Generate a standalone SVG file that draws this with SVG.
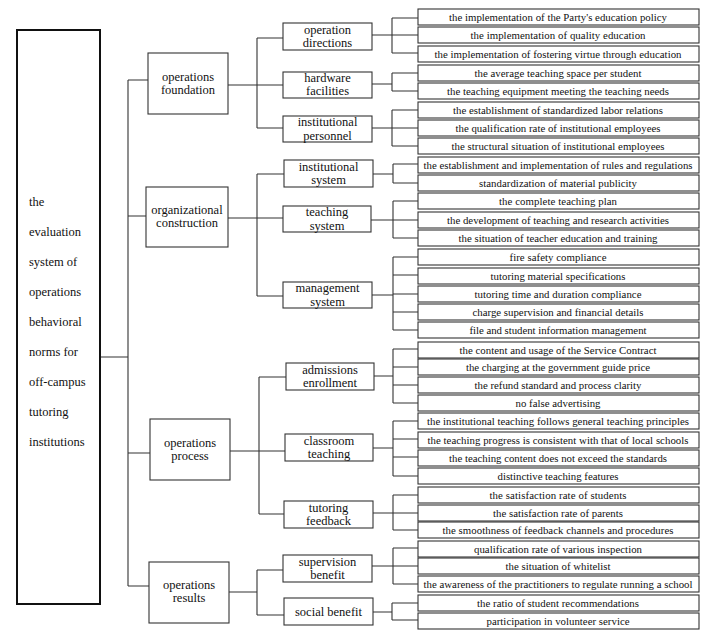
<svg xmlns="http://www.w3.org/2000/svg" width="713" height="637" viewBox="0 0 713 637">
<style>
.bg{fill:#fff}
.root{fill:#fff;stroke:#111;stroke-width:2}
.b{fill:#fff;stroke:#333;stroke-width:1.1}
.c{fill:none;stroke:#333;stroke-width:1.1}
.t1{font-size:12.5px;text-anchor:middle}
.t3{font-size:10.8px;text-anchor:middle}
.tr{font-size:12.5px}
</style>
<rect class="bg" x="0" y="0" width="713" height="637"/>
<g id="connectors">
<path class="c" d="M100,357H128M128,80V586M128,80H148M128,216H146M128,453H150M128,586H149"/>
<path class="c" d="M228,85H283M257,38V128M257,38H283M257,128H283"/>
<path class="c" d="M228,218H283M257,174V296M257,174H284M257,296H283"/>
<path class="c" d="M230,451H285M259,377V514M259,377H286M259,514H284"/>
<path class="c" d="M229,592H257M257,570V615M257,570H283M257,615H284"/>
<path class="c" d="M372,35H418M392,18V53M392,18H418M392,53H418"/>
<path class="c" d="M372,84H392M392,73V91M392,73H418M392,91H418"/>
<path class="c" d="M372,128H418M392,110V146M392,110H418M392,146H418"/>
<path class="c" d="M373,174H393M393,164V183M393,164H418M393,183H418"/>
<path class="c" d="M371,220H418M393,201V238M393,201H418M393,238H418"/>
<path class="c" d="M372,295H393M393,257V330M393,257H418M393,275H418M393,294H418M393,312H418M393,330H418"/>
<path class="c" d="M374,376H393M393,349V403M393,349H418M393,367H418M393,385H418M393,403H418"/>
<path class="c" d="M373,448H393M393,421V476M393,421H418M393,439H418M393,457H418M393,476H418"/>
<path class="c" d="M373,513H418M393,495V530M393,495H418M393,530H418"/>
<path class="c" d="M372,566H418M393,548V584M393,548H418M393,584H418"/>
<path class="c" d="M373,612H392M392,603V620M392,603H418M392,620H418"/>
</g>
<g font-family="'Liberation Serif', 'DejaVu Serif', serif" fill="#111">
<g id="root">
<rect class="root" x="17" y="30" width="83" height="574"/>
<text class="tr" x="29" y="206">the</text>
<text class="tr" x="29" y="236">evaluation</text>
<text class="tr" x="29" y="266">system of</text>
<text class="tr" x="29" y="296">operations</text>
<text class="tr" x="29" y="326">behavioral</text>
<text class="tr" x="29" y="356">norms for</text>
<text class="tr" x="29" y="386">off-campus</text>
<text class="tr" x="29" y="416">tutoring</text>
<text class="tr" x="29" y="446">institutions</text>
</g>
<g id="operations-foundation"><rect class="b" x="148" y="53" width="80" height="61"/><text class="t1" x="188" y="81">operations</text><text class="t1" x="188" y="94">foundation</text></g>
<g id="organizational-construction"><rect class="b" x="146" y="187" width="82" height="60"/><text class="t1" x="187" y="214">organizational</text><text class="t1" x="187" y="227">construction</text></g>
<g id="operations-process"><rect class="b" x="150" y="419" width="80" height="61"/><text class="t1" x="190" y="447">operations</text><text class="t1" x="190" y="460">process</text></g>
<g id="operations-results"><rect class="b" x="149" y="562" width="80" height="61"/><text class="t1" x="189" y="589">operations</text><text class="t1" x="189" y="602">results</text></g>

<g id="operation-directions"><rect class="b" x="283" y="23" width="89" height="27"/><text class="t1" x="327.5" y="34">operation</text><text class="t1" x="327.5" y="47">directions</text></g>
<g id="hardware-facilities"><rect class="b" x="283" y="72" width="89" height="26"/><text class="t1" x="327.5" y="82">hardware</text><text class="t1" x="327.5" y="95">facilities</text></g>
<g id="institutional-personnel"><rect class="b" x="283" y="116" width="89" height="26"/><text class="t1" x="327.5" y="126">institutional</text><text class="t1" x="327.5" y="140">personnel</text></g>
<g id="institutional-system"><rect class="b" x="284" y="160" width="89" height="27"/><text class="t1" x="328.5" y="171">institutional</text><text class="t1" x="328.5" y="184">system</text></g>
<g id="teaching-system"><rect class="b" x="283" y="206" width="88" height="26"/><text class="t1" x="327" y="216">teaching</text><text class="t1" x="327" y="230">system</text></g>
<g id="management-system"><rect class="b" x="283" y="282" width="89" height="26"/><text class="t1" x="327.5" y="292">management</text><text class="t1" x="327.5" y="306">system</text></g>
<g id="admissions-enrollment"><rect class="b" x="286" y="363" width="88" height="27"/><text class="t1" x="330" y="374">admissions</text><text class="t1" x="330" y="387">enrollment</text></g>
<g id="classroom-teaching"><rect class="b" x="285" y="434" width="88" height="27"/><text class="t1" x="329" y="445">classroom</text><text class="t1" x="329" y="458">teaching</text></g>
<g id="tutoring-feedback"><rect class="b" x="284" y="501" width="89" height="27"/><text class="t1" x="328.5" y="512">tutoring</text><text class="t1" x="328.5" y="525">feedback</text></g>
<g id="supervision-benefit"><rect class="b" x="283" y="555" width="89" height="27"/><text class="t1" x="327.5" y="566">supervision</text><text class="t1" x="327.5" y="579">benefit</text></g>
<g id="social-benefit"><rect class="b" x="284" y="598" width="89" height="27"/><text class="t1" x="328.5" y="616">social benefit</text></g>

<g id="i01"><rect class="b" x="418" y="9" width="281" height="16"/><text class="t3" x="558" y="20.5" textLength="218">the implementation of the Party's education policy</text></g>
<g id="i02"><rect class="b" x="418" y="27" width="281" height="16"/><text class="t3" x="558" y="38.5" textLength="175">the implementation of quality education</text></g>
<g id="i03"><rect class="b" x="418" y="46" width="281" height="16"/><text class="t3" x="558" y="57.5" textLength="247">the implementation of fostering virtue through education</text></g>
<g id="i04"><rect class="b" x="418" y="65" width="281" height="16"/><text class="t3" x="558" y="76.5" textLength="167">the average teaching space per student</text></g>
<g id="i05"><rect class="b" x="418" y="83" width="281" height="16"/><text class="t3" x="558" y="94.5" textLength="222">the teaching equipment meeting the teaching needs</text></g>
<g id="i06"><rect class="b" x="418" y="102" width="281" height="16"/><text class="t3" x="558" y="113.5" textLength="210">the establishment of standardized labor relations</text></g>
<g id="i07"><rect class="b" x="418" y="120" width="281" height="16"/><text class="t3" x="558" y="131.5" textLength="205">the qualification rate of institutional employees</text></g>
<g id="i08"><rect class="b" x="418" y="138" width="281" height="16"/><text class="t3" x="558" y="149.5" textLength="213">the structural situation of institutional employees</text></g>
<g id="i09"><rect class="b" x="418" y="157" width="281" height="16"/><text class="t3" x="558" y="168.5" textLength="269">the establishment and implementation of rules and regulations</text></g>
<g id="i10"><rect class="b" x="418" y="175" width="281" height="16"/><text class="t3" x="558" y="186.5" textLength="158">standardization of material publicity</text></g>
<g id="i11"><rect class="b" x="418" y="193" width="281" height="16"/><text class="t3" x="558" y="204.5" textLength="118">the complete teaching plan</text></g>
<g id="i12"><rect class="b" x="418" y="212" width="281" height="16"/><text class="t3" x="558" y="223.5" textLength="222">the development of teaching and research activities</text></g>
<g id="i13"><rect class="b" x="418" y="230" width="281" height="16"/><text class="t3" x="558" y="241.5" textLength="199">the situation of teacher education and training</text></g>
<g id="i14"><rect class="b" x="418" y="249" width="281" height="16"/><text class="t3" x="558" y="260.5" textLength="97">fire safety compliance</text></g>
<g id="i15"><rect class="b" x="418" y="268" width="281" height="16"/><text class="t3" x="558" y="279.5" textLength="135">tutoring material specifications</text></g>
<g id="i16"><rect class="b" x="418" y="286" width="281" height="16"/><text class="t3" x="558" y="297.5" textLength="167">tutoring time and duration compliance</text></g>
<g id="i17"><rect class="b" x="418" y="304" width="281" height="16"/><text class="t3" x="558" y="315.5" textLength="171">charge supervision and financial details</text></g>
<g id="i18"><rect class="b" x="418" y="322" width="281" height="16"/><text class="t3" x="558" y="333.5" textLength="177">file and student information management</text></g>
<g id="i19"><rect class="b" x="418" y="342" width="281" height="16"/><text class="t3" x="558" y="353.5" textLength="197">the content and usage of the Service Contract</text></g>
<g id="i20"><rect class="b" x="418" y="359" width="281" height="16"/><text class="t3" x="558" y="370.5" textLength="184">the charging at the government guide price</text></g>
<g id="i21"><rect class="b" x="418" y="377" width="281" height="16"/><text class="t3" x="558" y="388.5" textLength="167">the refund standard and process clarity</text></g>
<g id="i22"><rect class="b" x="418" y="395" width="281" height="16"/><text class="t3" x="558" y="406.5" textLength="85">no false advertising</text></g>
<g id="i23"><rect class="b" x="418" y="413" width="281" height="16"/><text class="t3" x="558" y="424.5" textLength="262">the institutional teaching follows general teaching principles</text></g>
<g id="i24"><rect class="b" x="418" y="432" width="281" height="16"/><text class="t3" x="558" y="443.5" textLength="261">the teaching progress is consistent with that of local schools</text></g>
<g id="i25"><rect class="b" x="418" y="450" width="281" height="16"/><text class="t3" x="558" y="461.5" textLength="218">the teaching content does not exceed the standards</text></g>
<g id="i26"><rect class="b" x="418" y="468" width="281" height="16"/><text class="t3" x="558" y="479.5" textLength="121">distinctive teaching features</text></g>
<g id="i27"><rect class="b" x="418" y="487" width="281" height="16"/><text class="t3" x="558" y="498.5" textLength="137">the satisfaction rate of students</text></g>
<g id="i28"><rect class="b" x="418" y="505" width="281" height="16"/><text class="t3" x="558" y="516.5" textLength="130">the satisfaction rate of parents</text></g>
<g id="i29"><rect class="b" x="418" y="522" width="281" height="16"/><text class="t3" x="558" y="533.5" textLength="231">the smoothness of feedback channels and procedures</text></g>
<g id="i30"><rect class="b" x="418" y="541" width="281" height="16"/><text class="t3" x="558" y="552.5" textLength="168">qualification rate of various inspection</text></g>
<g id="i31"><rect class="b" x="418" y="558" width="281" height="16"/><text class="t3" x="558" y="569.5" textLength="105">the situation of whitelist</text></g>
<g id="i32"><rect class="b" x="418" y="576" width="281" height="16"/><text class="t3" x="558" y="587.5" textLength="269">the awareness of the practitioners to regulate running a school</text></g>
<g id="i33"><rect class="b" x="418" y="595" width="281" height="16"/><text class="t3" x="558" y="606.5" textLength="162">the ratio of student recommendations</text></g>
<g id="i34"><rect class="b" x="418" y="613" width="281" height="16"/><text class="t3" x="558" y="624.5" textLength="143">participation in volunteer service</text></g>
</g>
</svg>
